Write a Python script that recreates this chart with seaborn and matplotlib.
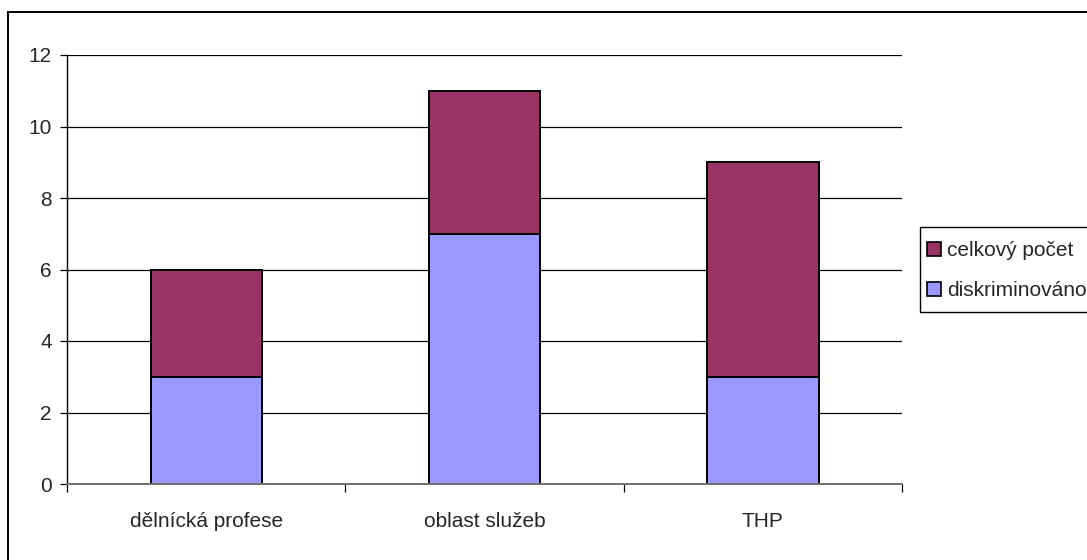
import matplotlib
matplotlib.use("Agg")
import matplotlib.pyplot as plt
from matplotlib.patches import Rectangle
from matplotlib.lines import Line2D
import seaborn as sns
import pandas as pd

# Data
kategorie = ["dělnícká profese", "oblast služeb", "THP"]
diskriminovano = [3, 7, 3]
celkovy_pocet = [3, 4, 6]          # upper stacked segment
y_ticks = [0, 2, 4, 6, 8, 10, 12]

barva_celkem = "#993366"
barva_diskr = "#9999FF"

sns.set_theme(style="white")
plt.rcParams["font.family"] = ["Liberation Sans", "DejaVu Sans"]

df = pd.DataFrame({
    "kategorie": kategorie,
    "diskriminovano": diskriminovano,
    "celkovy_pocet": celkovy_pocet,
})
df["vrchol"] = df["diskriminovano"] + df["celkovy_pocet"]

W, H = 1087, 560
fig = plt.figure(figsize=(W / 100, H / 100), dpi=100)
ax = fig.add_axes([67 / W, 1 - 484 / H, (902 - 67) / W, (484 - 55) / H])

# Horizontal grid lines
for t in y_ticks[1:]:
    ax.axhline(t, color="black", lw=0.9, zorder=0)

# Stacked columns: full height first, then the lower segment over it
sns.barplot(data=df, x="kategorie", y="vrchol", color=barva_celkem, width=0.4,
            saturation=1, edgecolor="black", linewidth=1.4, ax=ax, zorder=2)
sns.barplot(data=df, x="kategorie", y="diskriminovano", color=barva_diskr, width=0.4,
            saturation=1, edgecolor="black", linewidth=1.4, ax=ax, zorder=3)

ax.set_xlim(-0.5, 2.5)
ax.set_ylim(0, 12)
ax.set_yticks(y_ticks)
ax.set_xlabel("")
ax.set_ylabel("")

for s in ["top", "right"]:
    ax.spines[s].set_visible(False)
ax.spines["left"].set_color("black")
ax.spines["left"].set_linewidth(1.0)
ax.spines["bottom"].set_color("#707070")
ax.spines["bottom"].set_linewidth(1.4)
ax.spines["bottom"].set_zorder(4)

ax.tick_params(axis="y", which="major", direction="out", length=5, width=0.9,
               color="black", pad=6, labelsize=15, left=True)
ax.tick_params(axis="x", which="major", length=0, pad=20, labelsize=15)
ax.set_xticks([-0.5, 0.5, 1.5, 2.5], minor=True)
ax.tick_params(axis="x", which="minor", direction="out", length=6, width=0.9,
               color="black", bottom=True)

# Legend entries, with the box drawn separately so it runs to the right edge
handles = [
    Line2D([], [], marker="s", linestyle="none", markersize=9.5,
           markerfacecolor=barva_celkem, markeredgecolor="black", markeredgewidth=1.2),
    Line2D([], [], marker="s", linestyle="none", markersize=9.5,
           markerfacecolor=barva_diskr, markeredgecolor="black", markeredgewidth=1.2),
]
fig.legend(handles, ["celkový počet", "diskriminováno"], loc="center left",
           bbox_to_anchor=(928 / W, 1 - 270.5 / H), fontsize=15,
           frameon=False, handlelength=0.6, handletextpad=0.31,
           borderpad=0, labelspacing=1.0, borderaxespad=0)
fig.patches.append(Rectangle((920 / W, 1 - 312 / H), 0.2, 85 / H,
                             transform=fig.transFigure, fill=False,
                             edgecolor="black", linewidth=1.0, zorder=0))

# Outer chart frame
fig.patches.append(Rectangle((8 / W, -0.05), 1.2, 1 - 12 / H + 0.05,
                             transform=fig.transFigure, fill=False,
                             edgecolor="black", linewidth=1.4, zorder=0))

fig.savefig("out.png", dpi=100)
